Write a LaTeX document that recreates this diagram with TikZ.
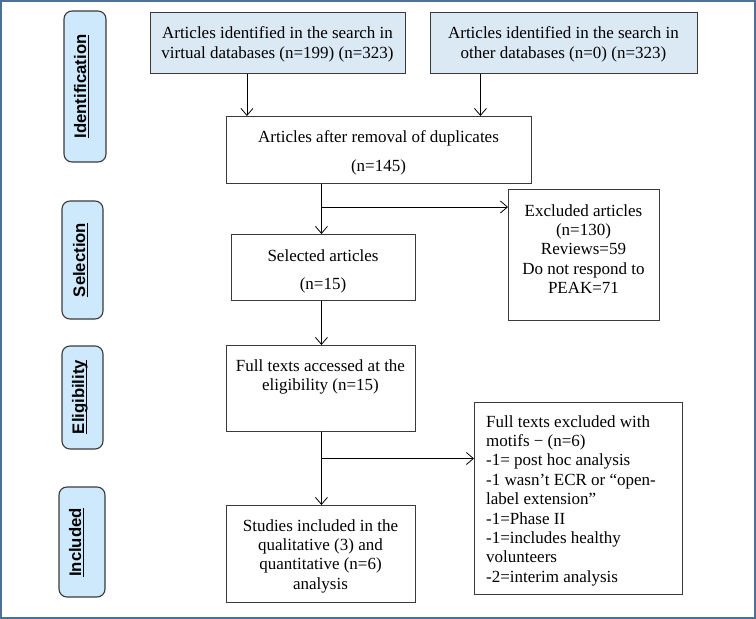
\documentclass[tikz,border=0pt]{standalone}
\usepackage{fontspec}
\setmainfont{Liberation Serif}
\newfontfamily\labelfont{Liberation Sans}
\usetikzlibrary{arrows.meta,calc}
\definecolor{framec}{HTML}{4D7096}
\definecolor{sidefill}{HTML}{CDE9FB}
\definecolor{topfill}{HTML}{DBE9F5}
\definecolor{edgec}{HTML}{3A3A3A}
\newcommand\myul[1]{\setbox0\hbox{#1}\rlap{\raisebox{-3.4pt}{\rule{\wd0}{1.5pt}}}\box0}
\tikzset{
  stagebox/.style={draw=edgec, line width=1.1pt, fill=sidefill, rounded corners=8pt, inner sep=0pt},
  stagetext/.style={rotate=90, anchor=base, inner sep=0pt, font=\labelfont\bfseries\fontsize{16.7}{19}\selectfont},
  flowbox/.style={draw=edgec, line width=0.9pt, inner sep=0pt, anchor=north west},
  topbox/.style={flowbox, fill=topfill},
  flowtext/.style={inner sep=0pt, anchor=north, align=center, font=\fontsize{17}{19.4}\selectfont},
  arr/.style={draw=black, line width=0.8pt, -{Straight Barb[length=7pt,width=12pt,line width=0.8pt]}},
  plain/.style={draw=black, line width=0.8pt}
}
\begin{document}
\begin{tikzpicture}[x=1pt,y=-1pt]
\useasboundingbox (0,0) rectangle (756,619);
\draw[framec, line width=2.4pt] (1.2,1.2) rectangle (754.8,617.8);

% stage labels
\node[stagebox, minimum width=42pt, minimum height=151pt] (sid) at (85,86.5) {};
\node[stagetext] (tid) at (86,86.5) {\myul{Identification}};
\node[stagebox, minimum width=41pt, minimum height=118pt] (ssel) at (82.5,260) {};
\node[stagetext] (tsel) at (85,260) {\myul{Selection}};
\node[stagebox, minimum width=41pt, minimum height=103pt] (selig) at (82.5,397.5) {};
\node[stagetext] (telig) at (84,397) {\myul{Eligibility}};
\node[stagebox, minimum width=46pt, minimum height=110pt] (sinc) at (82,542) {};
\node[stagetext] (tinc) at (81,542.5) {\myul{Included}};

% boxes
\node[topbox, minimum width=255pt, minimum height=61.5pt] (b1) at (149.5,11.7) {};
\node[flowtext] (t1) at (277.5,26.5) {Articles identified in the search in\\[0.6pt] virtual databases (n=199) (n=323)};
\node[topbox, minimum width=267pt, minimum height=61.5pt] (b2) at (430,11.7) {};
\node[flowtext] (t2) at (563.5,26.5) {Articles identified in the search in\\[0.6pt] other databases (n=0) (n=323)};

\node[flowbox, minimum width=305pt, minimum height=67pt] (dup) at (226,116) {};
\node[flowtext] (tdup) at (378.5,130) {Articles after removal of duplicates\\[9.6pt] (n=145)};

\node[flowbox, minimum width=184pt, minimum height=66pt] (sel) at (231,234) {};
\node[flowtext] (tsel2) at (323,249) {Selected articles\\[9pt] (n=15)};

\node[flowbox, minimum width=151pt, minimum height=131pt] (exc) at (508,189) {};
\node[flowtext] (texc) at (583.5,204) {Excluded articles\\(n=130)\\Reviews=59\\Do not respond to\\PEAK=71};

\node[flowbox, minimum width=189pt, minimum height=86pt] (elig) at (226,345) {};
\node[flowtext] (telig2) at (320.5,359) {Full texts accessed at the\\eligibility (n=15)};

\node[flowbox, minimum width=208pt, minimum height=192pt] (ftx) at (474,402) {};
\node[flowtext, anchor=north west, align=left] (tftx) at (486,415) {Full texts excluded with\\motifs − (n=6)\\-1= post hoc analysis\\-1 wasn’t ECR or “open-\\label extension”\\-1=Phase II\\-1=includes healthy\\volunteers\\-2=interim analysis};

\node[flowbox, minimum width=189pt, minimum height=97pt] (inc) at (226,505) {};
\node[flowtext] (tinc2) at (320.5,519) {Studies included in the\\qualitative (3) and\\quantitative (n=6)\\analysis};

% connectors
\draw[arr] ([xshift=-30.5pt]b1.south) -- ([xshift=-30.5pt]b1.south |- dup.north);
\draw[arr] ([xshift=-83.5pt]b2.south) -- ([xshift=-83.5pt]b2.south |- dup.north);
\draw[arr] ([xshift=-57.5pt]dup.south) -- ([xshift=-57.5pt]dup.south |- sel.north);
\coordinate (j1) at (321,207);
\draw[arr] (j1) -- (j1 -| exc.west);
\draw[arr] ([xshift=-2pt]sel.south) -- ([xshift=-2pt]sel.south |- elig.north);
\draw[arr] ([xshift=0.5pt]elig.south) -- ([xshift=0.5pt]elig.south |- inc.north);
\coordinate (j2) at (321,458.5);
\draw[arr] (j2) -- (j2 -| ftx.west);
\end{tikzpicture}
\end{document}
